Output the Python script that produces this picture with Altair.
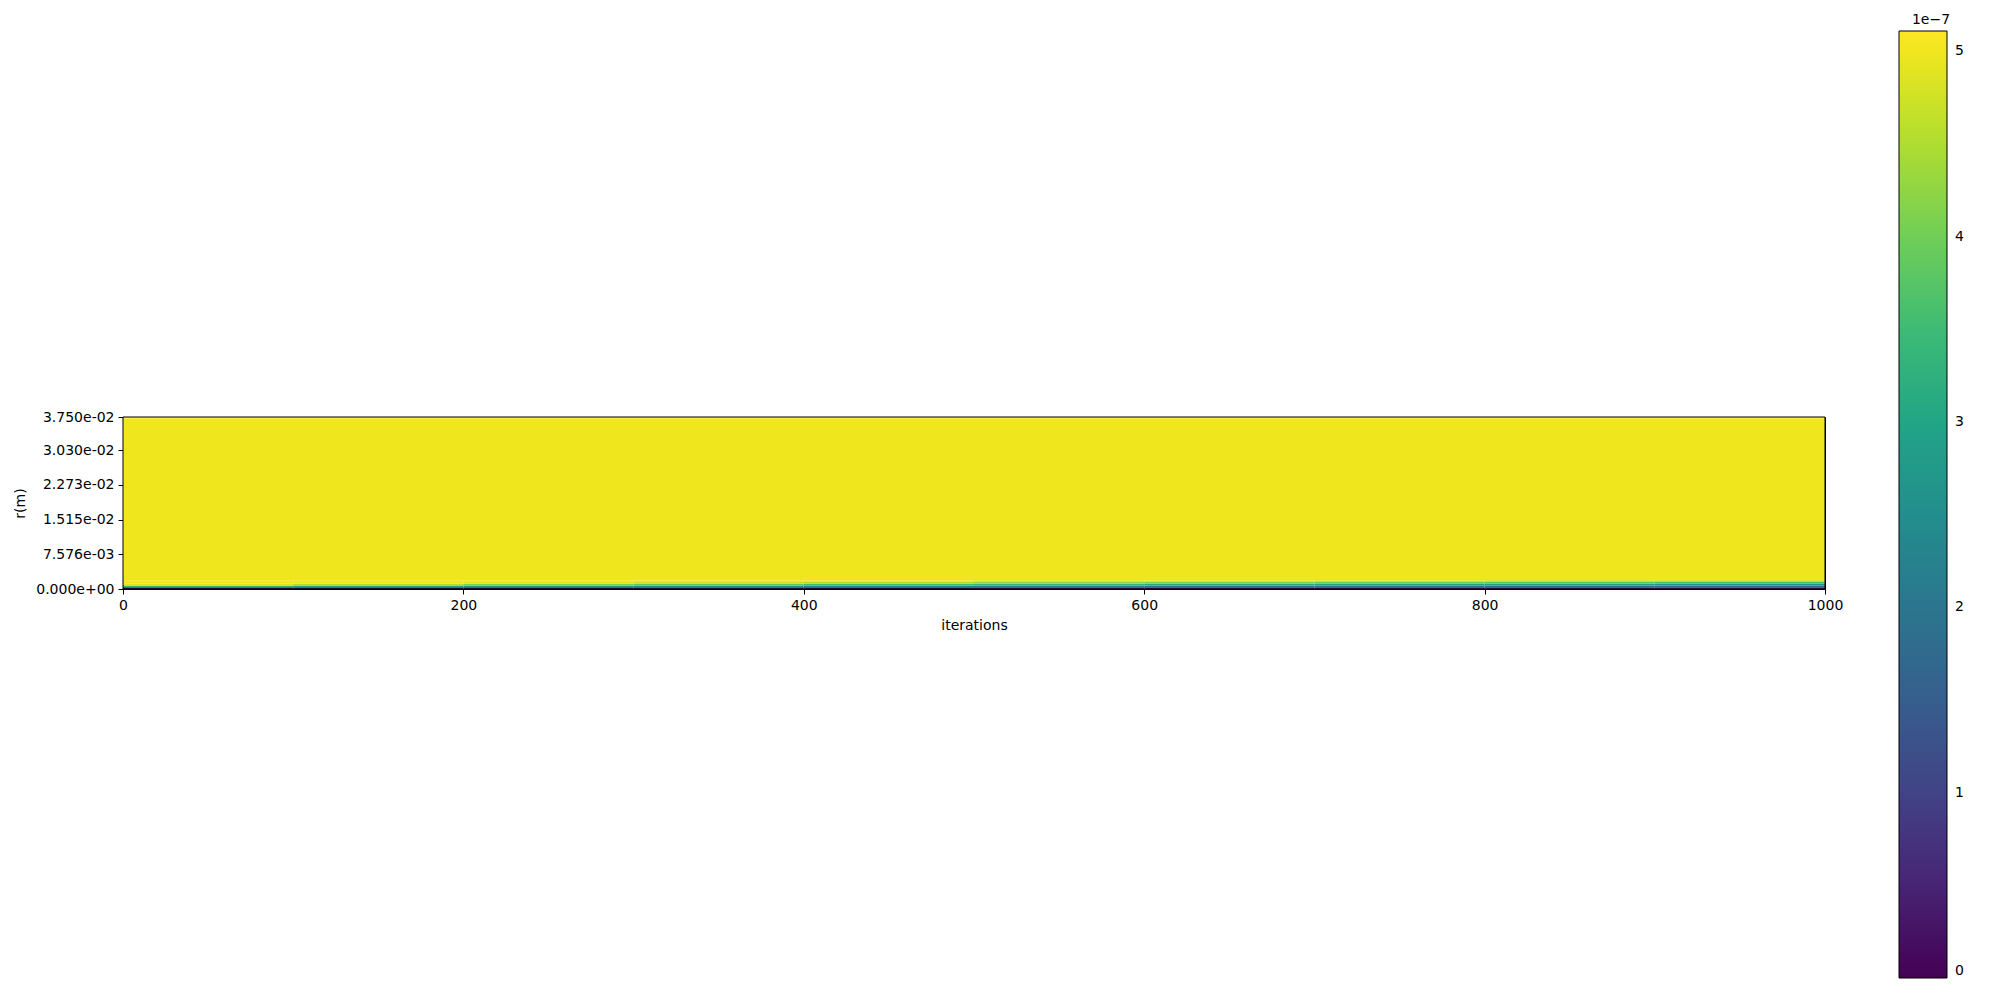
import altair as alt
import pandas as pd

# iteration columns (bin edges)
iter_start = [0, 100, 200, 300, 400, 500, 600, 700, 800, 900]
iter_end = [100, 200, 300, 400, 500, 600, 700, 800, 900, 1000]

# radial row edges near the axis (m)
row_lo = [0.0, 0.000379, 0.000758, 0.001136, 0.001515]
row_hi = [0.000379, 0.000758, 0.001136, 0.001515, 0.001894]

# values (x1e-7) of the bottom rows for each iteration column
row0 = [0.15, 0.2, 0.2, 0.25, 0.25, 0.3, 0.3, 0.3, 0.35, 0.35]
row1 = [3.4, 3.0, 2.7, 2.5, 2.3, 2.1, 2.0, 1.9, 1.8, 1.7]
row2 = [4.9, 4.5, 4.1, 3.8, 3.5, 3.3, 3.1, 2.9, 2.8, 2.6]
row3 = [5.0, 5.0, 4.9, 4.7, 4.5, 4.3, 4.1, 3.9, 3.8, 3.6]
row4 = [5.0, 5.0, 5.0, 5.0, 5.0, 4.9, 4.9, 4.8, 4.7, 4.6]

bulk_value = 5.0     # x1e-7, rest of the domain
top_value = 5.11     # x1e-7, outer row
r_max = 0.0375
r_top_row = 0.037121

y_ticks = [0.0, 0.007576, 0.01515, 0.02273, 0.0303, 0.0375]
x_ticks = [0, 200, 400, 600, 800, 1000]
cbar_ticks = [0, 1e-7, 2e-7, 3e-7, 4e-7, 5e-7]
vmax = 5.11e-7

rows = []
profiles = [row0, row1, row2, row3, row4]
for j, (a, b) in enumerate(zip(iter_start, iter_end)):
    for k, prof in enumerate(profiles):
        rows.append(dict(x=a, x2=b, y=row_lo[k], y2=row_hi[k], v=prof[j] * 1e-7))
rows.append(dict(x=0, x2=1000, y=row_hi[-1], y2=r_top_row, v=bulk_value * 1e-7))
rows.append(dict(x=0, x2=1000, y=r_top_row, y2=r_max, v=top_value * 1e-7))
df = pd.DataFrame(rows)

frame_df = pd.DataFrame([dict(x=0, x2=1000, y=0.0, y2=r_max)])

font = "DejaVu Sans"

xscale = alt.Scale(domain=[0, 1000], nice=False, zero=False)
yscale = alt.Scale(domain=[0, r_max], nice=False, zero=False)

x_axis = alt.Axis(values=x_ticks, title="iterations", grid=False, format="d",
                  labelFontSize=14, titleFontSize=14, titleFontWeight="normal",
                  labelFont=font, titleFont=font, labelColor="black", titleColor="black",
                  domainColor="black", tickColor="black", tickSize=5, labelPadding=4,
                  titlePadding=6, labelFlush=False)
y_axis = alt.Axis(values=y_ticks, title="r(m)", grid=False,
                  labelExpr="replace(replace(format(datum.value, '.3e'), 'e-', 'e-0'), 'e+', 'e+0')",
                  labelFontSize=14, titleFontSize=14, titleFontWeight="normal",
                  labelFont=font, titleFont=font, labelColor="black", titleColor="black",
                  domainColor="black", tickColor="black", tickSize=5, labelPadding=4,
                  titlePadding=8, labelFlush=False, labelOverlap=False)

heat = alt.Chart(df).mark_rect(strokeWidth=0).encode(
    x=alt.X("x:Q", scale=xscale, axis=x_axis),
    x2="x2:Q",
    y=alt.Y("y:Q", scale=yscale, axis=y_axis),
    y2="y2:Q",
    color=alt.Color("v:Q", scale=alt.Scale(scheme="viridis", domain=[0, vmax], nice=False, zero=False),
                    legend=alt.Legend(orient="none", legendX=1776, legendY=-404,
                                      title="1e\u22127", titleFontSize=14, titleFontWeight="normal",
                                      titleFont=font, titleColor="black", titleAnchor="middle",
                                      titleAlign="center", titlePadding=4,
                                      gradientLength=947, gradientThickness=48,
                                      gradientStrokeColor="black", gradientStrokeWidth=1,
                                      values=cbar_ticks, labelFontSize=14, labelFont=font,
                                      labelColor="black", labelOverlap=False, labelOffset=8,
                                      labelExpr="'' + round(datum.value * 1e7)")),
)

frame = alt.Chart(frame_df).mark_rect(fillOpacity=0, fill="white", stroke="black", strokeWidth=1).encode(
    x=alt.X("x:Q", scale=xscale, axis=x_axis),
    x2="x2:Q",
    y=alt.Y("y:Q", scale=yscale, axis=y_axis),
    y2="y2:Q",
)

chart = alt.layer(heat, frame).properties(
    width=1702, height=172,
    autosize=alt.AutoSizeParams(type="none"),
    padding={"left": 123, "top": 417, "right": 175, "bottom": 411},
    background="white",
).configure_view(stroke="black", strokeWidth=1)

chart.save("out.html", embed_options={"renderer": "svg", "actions": False})
